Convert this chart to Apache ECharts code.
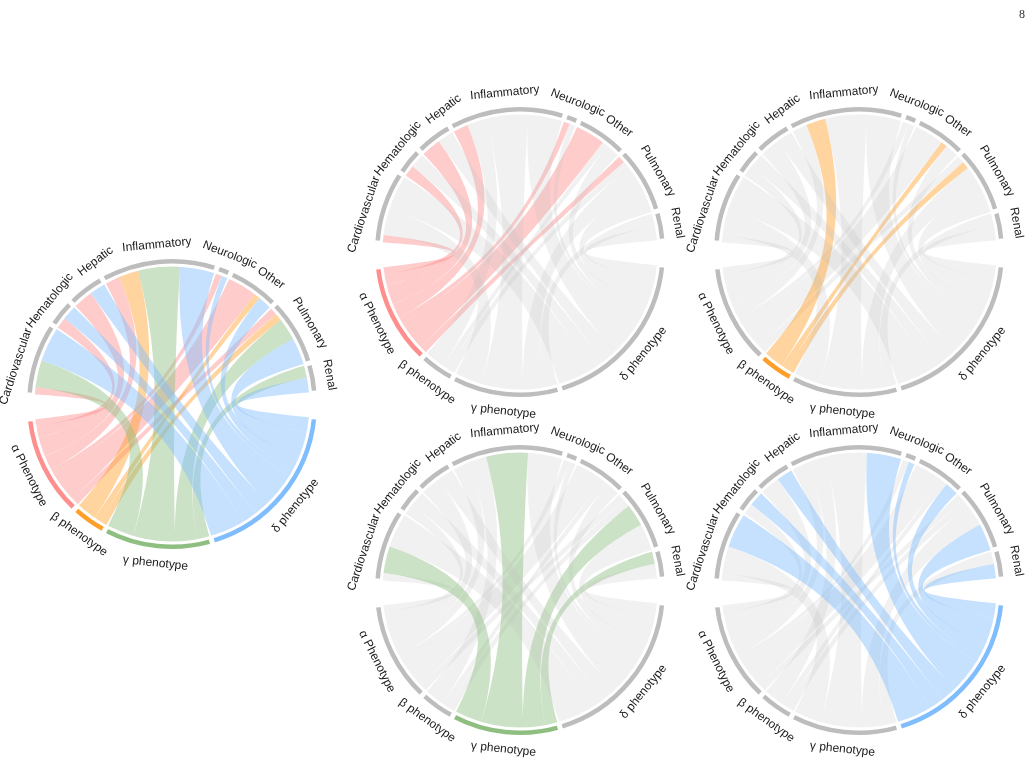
<!DOCTYPE html>
<html>
<head>
<meta charset="utf-8">
<script src="https://cdn.jsdelivr.net/npm/echarts@6/dist/echarts.min.js"></script>
<style>
  html, body { margin: 0; padding: 0; background: #fff; }
  #main { width: 1036px; height: 760px; }
</style>
</head>
<body>
<div id="main"></div>
<script>
// outcome categories (top half, clockwise from 9 o'clock)
const categories = ['Cardiovascular', 'Hematologic', 'Hepatic', 'Inflammatory', 'Neurologic', 'Other', 'Pulmonary', 'Renal'];
// phenotypes (bottom half)
const phenotypes = ['α Phenotype', 'β phenotype', 'γ phenotype', 'δ phenotype'];
// link weight of each phenotype to each category
const alphaValues = [3, 4.5, 8, 6, 2.5, 12, 3, 0];
const betaValues = [0, 0, 0, 8, 0, 2.5, 3, 0];
const gammaValues = [11, 0, 0, 17, 0, 0, 9, 5];
const deltaValues = [14, 6, 6.5, 14, 2.5, 5.5, 11, 6];
const gapValue = 8.5;

const phenoValues = [alphaValues, betaValues, gammaValues, deltaValues];
const arcColors = ['#ff8f8f', '#ff9f2a', '#8fbf80', '#80bdfc'];
const greyArc = '#bdbdbd';
const startAngle = 176;
const padAngle = 0.8;
// slide crowded labels along their baseline (px) so they don't collide
const labelShift = { Cardiovascular: -14, Hematologic: 3, Hepatic: 25, Other: 9 };

// node order around the circle (clockwise)
const nodeOrder = categories.concat(['gapR', phenotypes[3], phenotypes[2], phenotypes[1], phenotypes[0], 'gapL']);

function nodeSum(name) {
  if (name === 'gapR' || name === 'gapL') return gapValue;
  let ci = categories.indexOf(name);
  if (ci >= 0) return phenoValues.reduce((s, vals) => s + vals[ci], 0);
  return phenoValues[phenotypes.indexOf(name)].reduce((x, y) => x + y, 0);
}

// focus: -1 = all coloured, else index of the highlighted phenotype
function chordSeries(center, focus) {
  let nodes = nodeOrder.map(name => {
    if (name.indexOf('gap') === 0) {
      return { name: name, itemStyle: { color: 'rgba(0,0,0,0)', borderWidth: 0 } };
    }
    let pi = phenotypes.indexOf(name);
    let on = pi >= 0 && (focus < 0 || focus === pi);
    return { name: name, itemStyle: { color: on ? arcColors[pi] : greyArc } };
  });

  let links = [{ source: 'gapR', target: 'gapL', value: gapValue, lineStyle: { opacity: 0 } }];
  phenoValues.forEach((vals, i) => {
    let on = focus < 0 || focus === i;
    // categories in reverse so ribbons leave each phenotype without crossing
    for (let j = vals.length - 1; j >= 0; j--) {
      if (!vals[j]) continue;
      links.push({
        source: phenotypes[i],
        target: categories[j],
        value: vals[j],
        lineStyle: { color: 'source', opacity: on ? 0.45 : 0.22 }
      });
    }
  });

  return {
    type: 'chord',
    center: center,
    radius: [139, 146.5],
    startAngle: startAngle,
    clockwise: true,
    padAngle: padAngle,
    minAngle: 0,
    silent: true,
    itemStyle: { borderRadius: 0, borderColor: '#fff', borderWidth: 3 },
    lineStyle: { width: 0 },
    label: { show: false },
    data: nodes,
    links: links
  };
}

// transparent ring that carries the tangential labels at the same angles
function labelSeries(center) {
  let sums = nodeOrder.map(nodeSum);
  let total = sums.reduce((x, y) => x + y, 0);
  let unit = (360 - padAngle * nodeOrder.length) / total;
  return {
    type: 'pie',
    center: center,
    radius: [150, 164],
    startAngle: startAngle + padAngle / 2,
    clockwise: true,
    silent: true,
    avoidLabelOverlap: false,
    labelLayout: { hideOverlap: false },
    z: 3,
    itemStyle: { color: 'rgba(0,0,0,0)' },
    label: {
      show: true,
      position: 'inside',
      rotate: 'tangential',
      formatter: '{b}',
      fontFamily: 'Liberation Sans',
      fontSize: 12,
      color: '#1a1a1a'
    },
    labelLine: { show: false },
    data: nodeOrder.map((name, k) => ({
      name: name,
      value: unit * sums[k] + padAngle,
      label: { show: name.indexOf('gap') !== 0, offset: [labelShift[name] || 0, 0] }
    }))
  };
}

const centers = [[172, 404], [520, 252], [859, 252], [520, 590], [859, 590]];
let series = [];
centers.forEach((c, k) => {
  series.push(chordSeries(c, k - 1));
  series.push(labelSeries(c));
});

let myChart = echarts.init(document.getElementById('main'), null, { renderer: 'canvas' });
myChart.setOption({
  animation: false,
  backgroundColor: '#fff',
  title: {
    text: '8',
    right: 6,
    top: 4,
    textStyle: { fontFamily: 'Liberation Serif', fontSize: 12, fontWeight: 'normal', color: '#333' }
  },
  series: series
});
</script>
</body>
</html>
